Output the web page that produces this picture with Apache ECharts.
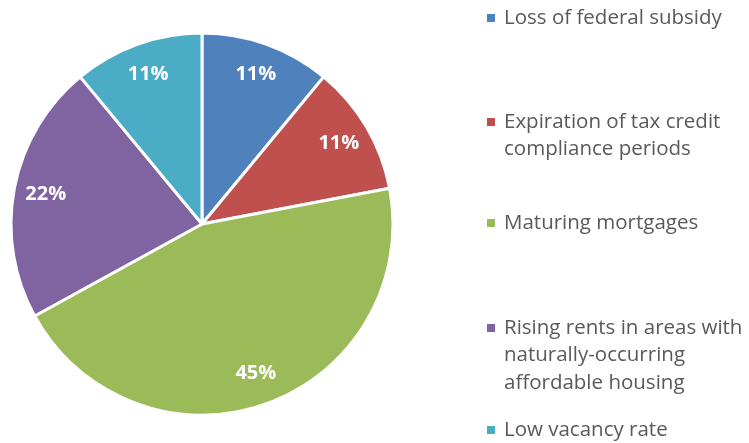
<!DOCTYPE html>
<html><head><meta charset="utf-8">
<script src="https://cdn.jsdelivr.net/npm/echarts@6/dist/echarts.min.js"></script>
<style>html,body{margin:0;padding:0;background:#fff}#c{width:749px;height:443px}</style>
</head><body><div id="c"></div>
<script>
const categories = ['Loss of federal subsidy', 'Expiration of tax credit\ncompliance periods', 'Maturing mortgages', 'Rising rents in areas with\nnaturally-occurring\naffordable housing', 'Low vacancy rate'];
const values = [11, 11, 45, 22, 11];
const colors = ['#4F81BD', '#C0504D', '#9BBB59', '#8064A2', '#4BACC6'];
const legendCenters = [18, 122, 223, 328, 430];

const FONT = 'Open Sans';
const LH = 27.5;
const data = categories.map((n, i) => ({ name: n, value: values[i], itemStyle: { color: colors[i] } }));
const legends = categories.map((n, i) => {
  const lines = n.split('\n').length;
  return {
    data: [n], orient: 'vertical', left: 487, top: legendCenters[i] - (2 * lines - 1) * LH / 2,
    padding: 0, itemWidth: 12, itemHeight: 8, itemGap: 0,
    icon: 'path://M0,0h8v8h-8zM12,0h0.001v0.001h-0.001z',
    itemStyle: { borderWidth: 0 },
    formatter: name => '\n'.repeat(lines - 1) + name,
    textStyle: { fontFamily: FONT, fontSize: 20.5, color: '#595959', lineHeight: LH },
    selectedMode: false
  };
});
const chart = echarts.init(document.getElementById('c'));
chart.setOption({
  animation: false,
  legend: legends,
  series: [
    { type: 'pie', center: [202, 224], radius: [0, 191], startAngle: 90, data: data,
      itemStyle: { borderColor: '#fff', borderWidth: 3 }, label: { show: false }, labelLine: { show: false },
      emphasis: { disabled: true }, silent: true },
    { type: 'pie', center: [202, 224], radius: [122, 190], startAngle: 90,
      data: data.map(d => ({ name: d.name, value: d.value, itemStyle: { color: 'rgba(0,0,0,0)' } })),
      label: { show: true, position: 'inside', formatter: '{c}%', color: '#fff', fontFamily: FONT, fontWeight: 'bold', fontSize: 20 },
      labelLine: { show: false }, emphasis: { disabled: true }, silent: true }
  ]
});
</script></body></html>
